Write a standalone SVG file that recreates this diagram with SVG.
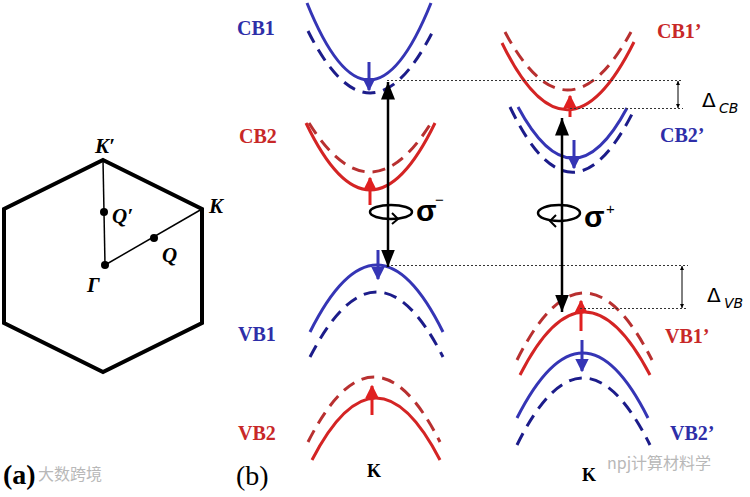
<svg xmlns="http://www.w3.org/2000/svg" width="750" height="497" viewBox="0 0 750 497">
<style>
.bg{fill:#fff}
.hex{fill:none;stroke:#000;stroke-width:4;stroke-linejoin:miter}
.thin{fill:none;stroke:#000;stroke-width:1.5}
.dot{fill:#000}
.lblA{font-family:"Liberation Serif",serif;font-weight:bold;font-style:italic;font-size:21px;fill:#000}
.lbl{font-family:"Liberation Serif",serif;font-weight:bold;font-size:20px}
.blue{fill:#2e2ea8}
.red{fill:#c82828}
.bs{fill:none;stroke:#3535b5;stroke-width:3}
.bd{fill:none;stroke:#1c1c8a;stroke-width:3;stroke-dasharray:13 8}
.rs{fill:none;stroke:#d42424;stroke-width:3}
.rd{fill:none;stroke:#b83030;stroke-width:3;stroke-dasharray:13 8}
.dotted{fill:none;stroke:#333;stroke-width:1;stroke-dasharray:2 2}
.main{fill:none;stroke:#000;stroke-width:2.5}
.delta{fill:none;stroke:#000;stroke-width:1}
.sig{font-family:"Liberation Sans",sans-serif;font-weight:bold;font-size:30px;fill:#000}
.sup{font-family:"Liberation Sans",sans-serif;font-size:15px;fill:#000}
.dl{font-family:"DejaVu Sans",sans-serif;font-size:20px;fill:#000}
.dsub{font-family:"DejaVu Sans",sans-serif;font-style:italic;font-size:14px;fill:#000}
.wm{font-family:"Noto Sans CJK SC","Noto Sans",sans-serif;font-size:16px;fill:#b8b8b8}
</style>
<defs>
<marker id="ah" viewBox="0 0 10 10" refX="10" refY="5" markerWidth="4" markerHeight="4" orient="auto-start-reverse"><path d="M0,0 L10,5 L0,10 z" fill="#000"/></marker>
<marker id="ahs" viewBox="0 0 10 10" refX="10" refY="5" markerWidth="7" markerHeight="7" orient="auto-start-reverse"><path d="M0,1 L10,5 L0,9 z" fill="#000"/></marker>
<marker id="bh" viewBox="0 0 10 10" refX="9" refY="5" markerWidth="4.5" markerHeight="4.5" orient="auto"><path d="M0,0 L10,5 L0,10 z" fill="#3535b5"/></marker>
<marker id="rh" viewBox="0 0 10 10" refX="9" refY="5" markerWidth="4.5" markerHeight="4.5" orient="auto"><path d="M0,0 L10,5 L0,10 z" fill="#e02020"/></marker>
</defs>
<rect class="bg" x="0" y="0" width="750" height="497"/>

<!-- Panel (a) -->
<g id="brillouin-zone">
<polygon class="hex" points="103,160 202,209 202,323 103,372 4,323 4,209"/>
<line class="thin" x1="103" y1="160" x2="105" y2="265"/>
<line class="thin" x1="105" y1="265" x2="202" y2="209"/>
<circle class="dot" cx="105" cy="265" r="4"/>
<circle class="dot" cx="104" cy="212" r="4"/>
<circle class="dot" cx="154" cy="238" r="4"/>
<text class="lblA" x="95" y="153">K′</text>
<text class="lblA" x="209" y="213">K</text>
<text class="lblA" x="112" y="223">Q′</text>
<text class="lblA" x="162" y="262">Q</text>
<text class="lblA" x="87" y="292">Γ</text>
</g>
<text x="3" y="484" font-family="Liberation Serif, serif" font-weight="bold" font-size="28">(a)</text>
<text class="wm" x="38" y="480" font-size="14">大数跨境</text>

<!-- Panel (b) left: K valley -->
<g id="CB1">
<path class="bs" d="M307,3 Q369,157 431,3"/>
<path class="bd" d="M308,31 Q370,155 433,31"/>
<line x1="369" y1="62" x2="369" y2="90" stroke="#3535b5" stroke-width="3" marker-end="url(#bh)"/>
<text class="lbl blue" x="237" y="35">CB1</text>
</g>
<g id="CB2">
<path class="rs" d="M306,123 Q370,257 435,123"/>
<path class="rd" d="M309,123 Q370,221 431,123"/>
<line x1="370" y1="205" x2="370" y2="178" stroke="#e02020" stroke-width="3" marker-end="url(#rh)"/>
<text class="lbl red" x="239" y="143">CB2</text>
</g>
<g id="VB1">
<path class="bs" d="M310,332 Q377,198 443,332"/>
<path class="bd" d="M310,357 Q377,227 443,357"/>
<line x1="378" y1="250" x2="378" y2="279" stroke="#3535b5" stroke-width="3" marker-end="url(#bh)"/>
<text class="lbl blue" x="238" y="341">VB1</text>
</g>
<g id="VB2">
<path class="rs" d="M312,460 Q376,336 440,460"/>
<path class="rd" d="M308,442 Q374,312 440,442"/>
<line x1="372" y1="415" x2="372" y2="386" stroke="#e02020" stroke-width="3" marker-end="url(#rh)"/>
<text class="lbl red" x="238" y="440">VB2</text>
</g>
<text x="367" y="477" font-family="Liberation Serif, serif" font-weight="bold" font-size="18">K</text>
<text x="236" y="485" font-family="Liberation Serif, serif" font-size="28">(b)</text>

<!-- Panel (b) right: K' valley -->
<g id="CB1p">
<path class="rs" d="M502,43 Q567,177 634,42"/>
<path class="rd" d="M505,32 Q567,148 631,32"/>
<line x1="570" y1="117" x2="570" y2="96" stroke="#e02020" stroke-width="3" marker-end="url(#rh)"/>
<text class="lbl red" x="657" y="38">CB1’</text>
</g>
<g id="CB2p">
<path class="bs" d="M518,107 Q573,209 627,108"/>
<path class="bd" d="M510,107 Q572,237 635,108"/>
<line x1="574" y1="140" x2="574" y2="168" stroke="#3535b5" stroke-width="3" marker-end="url(#bh)"/>
<text class="lbl blue" x="660" y="142">CB2’</text>
</g>
<g id="VB1p">
<path class="rs" d="M520,375 Q584,249 650,375"/>
<path class="rd" d="M517,360 Q584,226 652,360"/>
<line x1="581" y1="331" x2="581" y2="301" stroke="#e02020" stroke-width="3" marker-end="url(#rh)"/>
<text class="lbl red" x="665" y="343">VB1’</text>
</g>
<g id="VB2p">
<path class="bs" d="M517,418 Q583,288 648,418"/>
<path class="bd" d="M517,445 Q583,311 650,445"/>
<line x1="582" y1="340" x2="582" y2="371" stroke="#3535b5" stroke-width="3" marker-end="url(#bh)"/>
<text class="lbl blue" x="670" y="440">VB2’</text>
</g>
<text x="582" y="481" font-family="Liberation Serif, serif" font-weight="bold" font-size="18">K</text>

<!-- Connectors -->
<g id="connectors">
<line class="dotted" x1="387" y1="80.5" x2="683" y2="80.5"/>
<line class="dotted" x1="570" y1="108.5" x2="683" y2="108.5"/>
<line class="dotted" x1="387" y1="265.5" x2="688" y2="265.5"/>
<line class="dotted" x1="580" y1="308.5" x2="688" y2="308.5"/>
<line class="main" x1="388" y1="82" x2="388" y2="267" marker-start="url(#ahs)" marker-end="url(#ahs)"/>
<line class="main" x1="562" y1="118" x2="562" y2="312" marker-start="url(#ahs)" marker-end="url(#ahs)"/>
<line class="delta" x1="678" y1="81" x2="678" y2="108" marker-start="url(#ah)" marker-end="url(#ah)" stroke-width="1.2"/>
<line class="delta" x1="682" y1="266" x2="682" y2="308" marker-start="url(#ah)" marker-end="url(#ah)" stroke-width="1.2"/>
<ellipse cx="391" cy="212" rx="21" ry="7" fill="none" stroke="#000" stroke-width="2.5"/>
<path d="M392,213 L398,219 L392,224" fill="none" stroke="#000" stroke-width="2"/>
<ellipse cx="559" cy="213" rx="21" ry="8" fill="none" stroke="#000" stroke-width="2.5"/>
<path d="M556,215 L550,221 L556,227" fill="none" stroke="#000" stroke-width="2"/>
</g>
<text class="sig" x="416" y="221">σ</text>
<text class="sup" x="435" y="205">−</text>
<text class="sig" x="584" y="227">σ</text>
<text class="sup" x="606" y="214">+</text>
<text class="dl" x="702" y="107">Δ</text>
<text class="dsub" x="719" y="113">CB</text>
<text class="dl" x="707" y="302">Δ</text>
<text class="dsub" x="724" y="308">VB</text>
<text class="wm" x="607" y="469">npj计算材料学</text>
</svg>
